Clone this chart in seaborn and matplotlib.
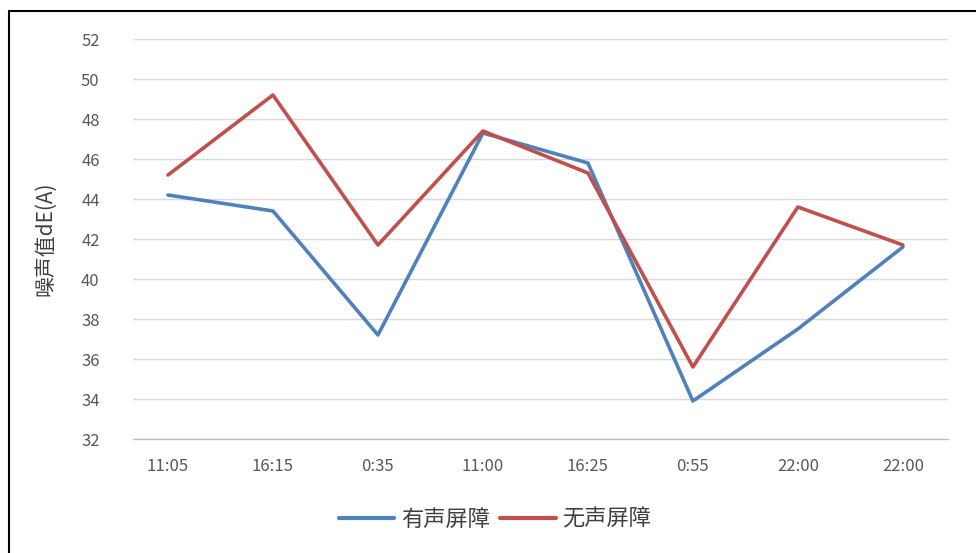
import matplotlib
matplotlib.use("Agg")
import matplotlib.pyplot as plt
import seaborn as sns
import pandas as pd
from matplotlib.lines import Line2D

times = ["11:05", "16:15", "0:35", "11:00", "16:25", "0:55", "22:00", "22:00"]
with_barrier = [44.2, 43.4, 37.2, 47.3, 45.8, 33.9, 37.5, 41.6]
without_barrier = [45.2, 49.2, 41.7, 47.4, 45.3, 35.6, 43.6, 41.7]
series_names = ["有声屏障", "无声屏障"]
yticks = list(range(32, 53, 2))

sns.set_theme(style="white")
plt.rcParams['font.family'] = ['Noto Sans CJK SC', 'DejaVu Sans']

pos = list(range(len(times)))
df = pd.DataFrame({
    "pos": pos * 2,
    "value": with_barrier + without_barrier,
    "series": [series_names[0]] * len(times) + [series_names[1]] * len(times),
})

fig = plt.figure(figsize=(9.76, 5.53), dpi=100)
ax = fig.add_axes([133/976, 1-439/553, (948-133)/976, (439-39)/553])

colors = ["#4F81BD", "#C0504D"]
sns.lineplot(data=df, x="pos", y="value", hue="series", sort=False,
             palette=colors, linewidth=2.6, ax=ax, legend=False)

ax.set_xlim(-0.333, 7.43)
ax.set_ylim(32, 52)
ax.set_yticks(yticks)
ax.set_xticks(pos)
ax.set_xticklabels(times)
ax.yaxis.grid(True, color="#D9D9D9", linewidth=1)
ax.xaxis.grid(False)
for s in ["top", "right", "left"]:
    ax.spines[s].set_visible(False)
ax.spines["bottom"].set_color("#BFBFBF")
ax.spines["bottom"].set_linewidth(1)
ax.tick_params(axis="both", length=0, colors="#595959", labelsize=12)
ax.tick_params(axis="x", pad=14)
ax.tick_params(axis="y", pad=24)
ax.set_xlabel("")
ax.set_ylabel("噪声值dE(A)", fontsize=15, color="#404040")
ax.yaxis.set_label_coords((56 - 133) / (948 - 133), 0.5)

handles = [Line2D([0], [0], color=colors[0], lw=3),
           Line2D([0], [0], color=colors[1], lw=3)]
fig.legend(handles, series_names, loc="center", bbox_to_anchor=(495/976, 1-519/553),
           ncol=2, frameon=False, fontsize=16, handlelength=2.5, columnspacing=0.45,
           handletextpad=0.3, labelcolor="#404040")

# partial frame (top & left border visible in reference)
fig.add_artist(Line2D([9/976, 9/976], [0, 1-11/553], transform=fig.transFigure, color="black", lw=1.5))
fig.add_artist(Line2D([9/976, 1], [1-11/553, 1-11/553], transform=fig.transFigure, color="black", lw=1.5))

fig.savefig("out.png", dpi=100, facecolor="white")
